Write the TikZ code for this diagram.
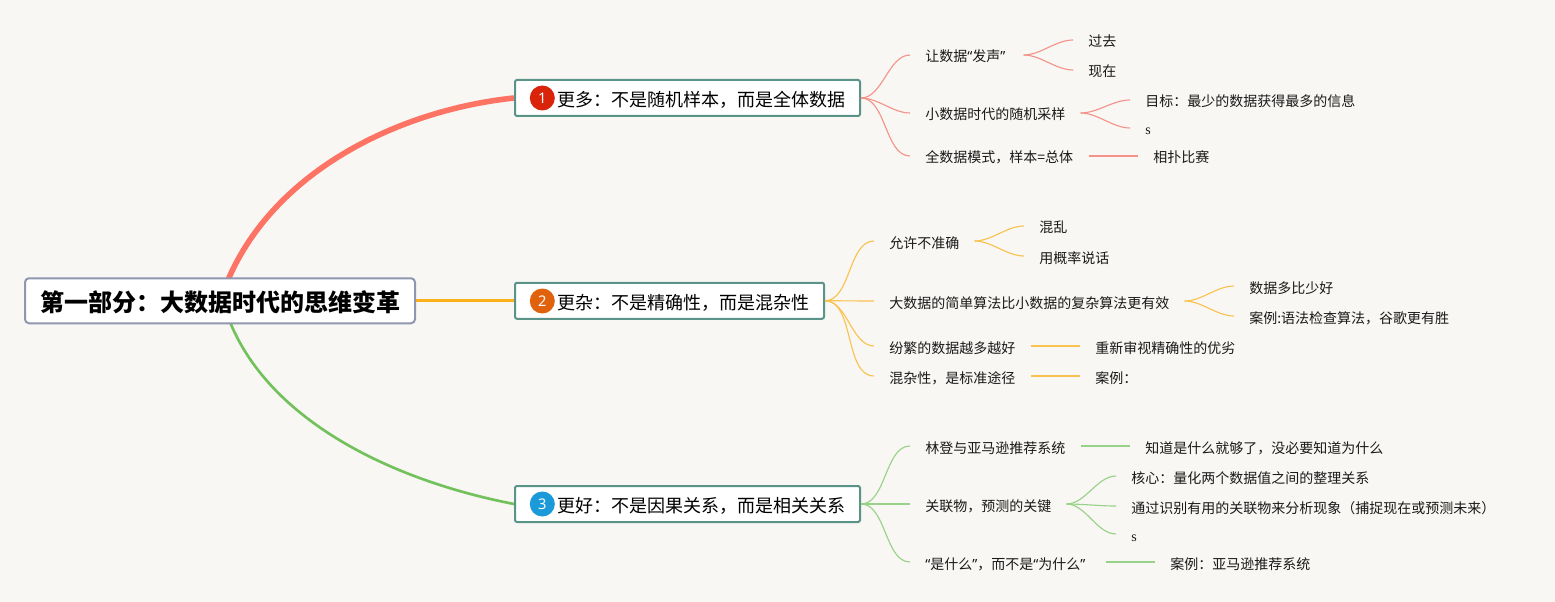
\documentclass[tikz,border=0pt]{standalone}
\usepackage{fontspec}
\setmainfont{Noto Sans CJK SC}
\newfontfamily\quotefont{Noto Sans}
\newfontfamily\serifs{Liberation Serif}
\usetikzlibrary{backgrounds}
\newdimen\pxu \pxu=0.75pt
\newcommand\opq{{\quotefont “}}
\newcommand\clq{{\quotefont ”}}
\newcommand\lbx[2]{\makebox[#1\pxu][l]{\hspace{15\pxu}#2}}
\newcommand\lnd[1]{\mbox{\hspace{15\pxu}#1}}
\definecolor{pagebg}{HTML}{F9F7F4}
\definecolor{rootline}{HTML}{8F96B0}
\definecolor{boxline}{HTML}{5A9488}
\definecolor{redm}{HTML}{FD7465}
\definecolor{orgm}{HTML}{FBB117}
\definecolor{grnm}{HTML}{72C15C}
\definecolor{redt}{HTML}{F4938A}
\definecolor{orgt}{HTML}{FAC24F}
\definecolor{grnt}{HTML}{98D288}
\definecolor{mark1}{HTML}{D9230B}
\definecolor{mark2}{HTML}{E0620D}
\definecolor{mark3}{HTML}{1A9AD9}
\tikzset{
  rootbox/.style={draw=rootline,fill=white,line width=1.5pt,rounded corners=3pt,inner sep=0pt,
    minimum width=390*0.75pt,minimum height=45*0.75pt,font=\fontsize{18pt}{20pt}\selectfont\bfseries,
    text height=16.7pt,text depth=0pt},
  mainbox/.style={draw=boxline,fill=white,line width=1.5pt,rounded corners=1.5pt,inner sep=0pt,anchor=west,
    minimum height=36*0.75pt,font=\fontsize{13.5pt}{15pt}\selectfont,text height=12.55pt,text depth=0pt},
  leaf/.style={anchor=west,inner sep=0pt,font=\fontsize{10.5pt}{12pt}\selectfont,text height=10.5pt,text depth=0pt,text=black!90},
  marker/.style={circle,inner sep=0pt,minimum size=25*0.75pt,text=white,font=\quotefont\fontsize{11pt}{12pt}\selectfont},
  rlink/.style={draw=redt,line width=0.85pt},
  olink/.style={draw=orgt,line width=0.85pt},
  glink/.style={draw=grnt,line width=0.85pt},
  fan/.style={out=0,in=180,looseness=0.85}
}
\begin{document}
\begin{tikzpicture}[x=0.75pt,y=-0.75pt]
\useasboundingbox (0,0) rectangle (1555,602);
% root and main
\node[rootbox] (root) at (220,300.75) {第一部分：大数据时代的思维变革};
\node[mainbox,minimum width=345*0.75pt] (m1) at (514,98) {\makebox[345\pxu][l]{\hspace{42\pxu}更多：不是随机样本，而是全体数据}};
\node[mainbox,minimum width=309*0.75pt] (m2) at (514,300.75) {\makebox[309\pxu][l]{\hspace{42\pxu}更杂：不是精确性，而是混杂性}};
\node[mainbox,minimum width=345*0.75pt] (m3) at (514,504) {\makebox[345\pxu][l]{\hspace{42\pxu}更好：不是因果关系，而是相关关系}};
\node[marker,fill=mark1] (k1) at (542.3,98) {1};
\node[marker,fill=mark2] (k2) at (542.3,301) {2};
\node[marker,fill=mark3] (k3) at (542.3,504) {3};
\coordinate (rt) at (228,280);
\coordinate (rb) at (230,322);
\begin{scope}[on background layer]
  \fill[pagebg] (0,0) rectangle (1555,602);
  \draw[redm,line width=4.2pt] (rt) .. controls (275,170) and (400,110) .. (m1.west);
  \draw[orgm,line width=2.3pt] (root.east) -- (m2.west);
  \draw[grnm,line width=2pt] (rb) .. controls (270,420) and (390,480) .. (m3.west);
\end{scope}
% group 1
\node[leaf] (a1) at (910,55) {\lbx{113}{让数据\opq 发声\clq}};
\node[leaf] (a2) at (910,113) {\lbx{170}{小数据时代的随机采样}};
\node[leaf] (a3) at (910,156) {\lbx{178}{全数据模式，样本=总体}};
\node[leaf] (a11) at (1073,40) {\lnd{过去}};
\node[leaf] (a12) at (1073,70) {\lnd{现在}};
\node[leaf] (a21) at (1130,100) {\lnd{目标：最少的数据获得最多的信息}};
\node[leaf] (a22) at (1130,128) {\lnd{\serifs s}};
\node[leaf] (a31) at (1138,156) {\lnd{相扑比赛}};
\foreach \t in {a1,a2,a3} \draw[rlink] (m1.east) to[fan] (\t.west);
\foreach \t in {a11,a12} \draw[rlink] (a1.east) to[fan] (\t.west);
\foreach \t in {a21,a22} \draw[rlink] (a2.east) to[fan] (\t.west);
\draw[rlink] (a3.east) -- (a31.west);
% group 2
\node[leaf] (b1) at (874,241) {\lbx{100}{允许不准确}};
\node[leaf] (b2) at (874,301) {\lbx{310}{大数据的简单算法比小数据的复杂算法更有效}};
\node[leaf] (b3) at (874,346) {\lbx{156}{纷繁的数据越多越好}};
\node[leaf] (b4) at (874,376) {\lbx{156}{混杂性，是标准途径}};
\node[leaf] (b11) at (1024,226) {\lnd{混乱}};
\node[leaf] (b12) at (1024,256) {\lnd{用概率说话}};
\node[leaf] (b21) at (1234,286) {\lnd{数据多比少好}};
\node[leaf] (b22) at (1234,316) {\lnd{案例:语法检查算法，谷歌更有胜}};
\node[leaf] (b31) at (1080,346) {\lnd{重新审视精确性的优劣}};
\node[leaf] (b41) at (1080,376) {\lnd{案例：}};
\foreach \t in {b1,b2,b3,b4} \draw[olink] (m2.east) to[fan] (\t.west);
\foreach \t in {b11,b12} \draw[olink] (b1.east) to[fan] (\t.west);
\foreach \t in {b21,b22} \draw[olink] (b2.east) to[fan] (\t.west);
\draw[olink] (b3.east) -- (b31.west);
\draw[olink] (b4.east) -- (b41.west);
% group 3
\node[leaf] (c1) at (910,446) {\lbx{170}{林登与亚马逊推荐系统}};
\node[leaf] (c2) at (910,504) {\lbx{156}{关联物，预测的关键}};
\node[leaf] (c3) at (910,562) {\lbx{195}{\opq 是什么\clq ，而不是\opq 为什么\clq}};
\node[leaf] (c11) at (1130,446) {\lnd{知道是什么就够了，没必要知道为什么}};
\node[leaf] (c21) at (1116,476) {\lnd{核心：量化两个数据值之间的整理关系}};
\node[leaf] (c22) at (1116,506) {\lnd{通过识别有用的关联物来分析现象（捕捉现在或预测未来）}};
\node[leaf] (c23) at (1116,534) {\lnd{\serifs s}};
\node[leaf] (c31) at (1155,562) {\lnd{案例：亚马逊推荐系统}};
\foreach \t in {c1,c2,c3} \draw[glink] (m3.east) to[fan] (\t.west);
\foreach \t in {c21,c22,c23} \draw[glink] (c2.east) to[fan] (\t.west);
\draw[glink] (c1.east) -- (c11.west);
\draw[glink] (c3.east) -- (c31.west);
\end{tikzpicture}
\end{document}
